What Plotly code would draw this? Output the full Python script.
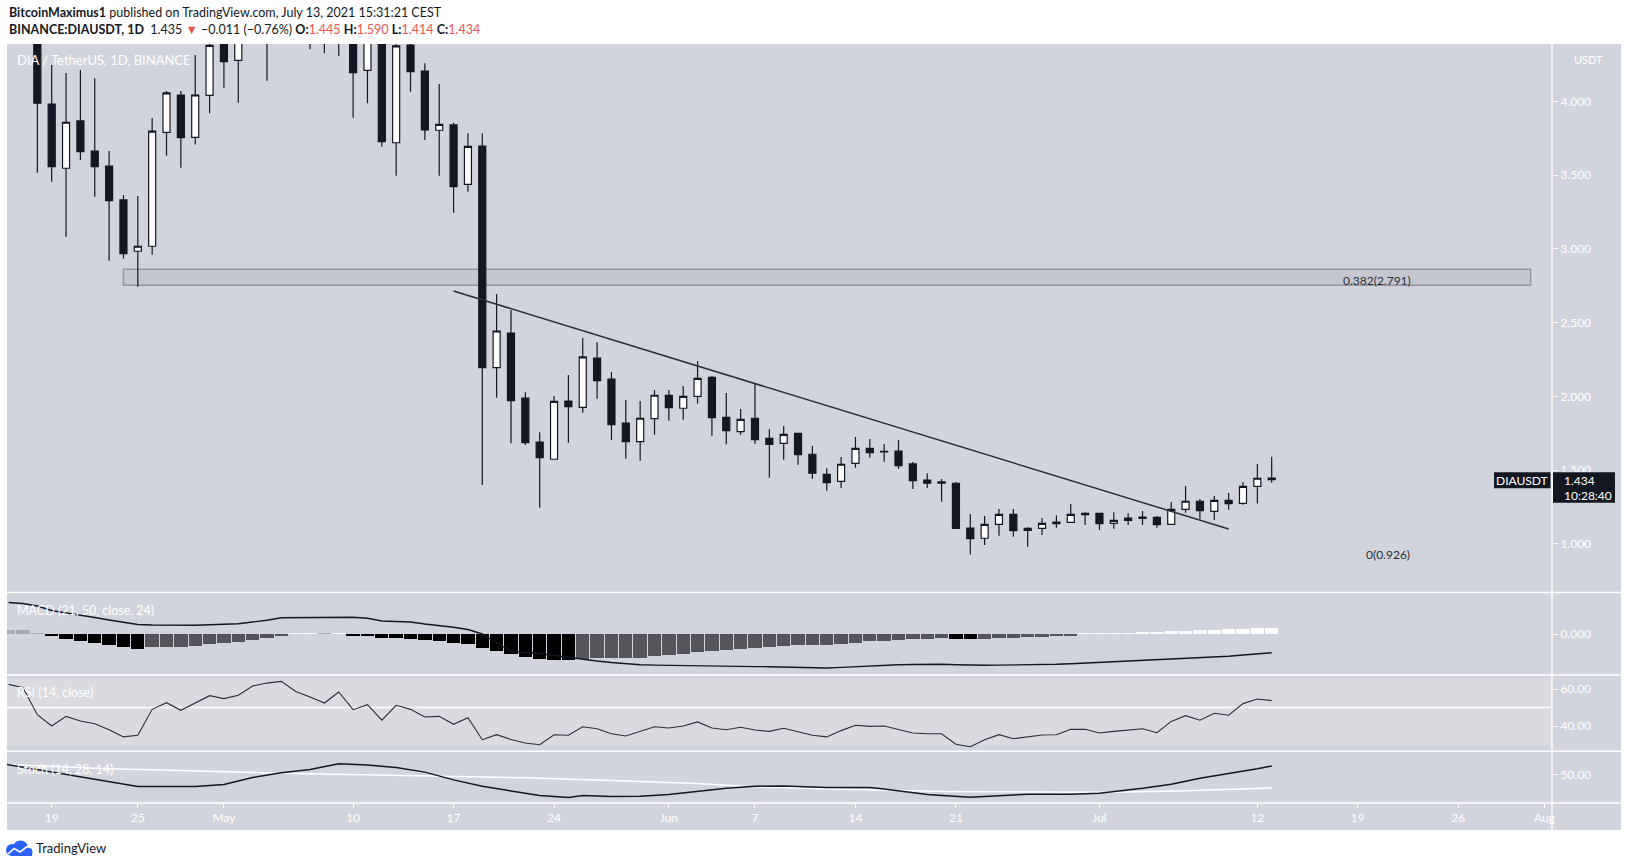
import plotly.graph_objects as go
import pandas as pd

# ---------------- data ----------------
dates = pd.date_range('2021-04-16', '2021-07-13', freq='D')

opens = [4.90, 4.85, 4.65, 3.983, 3.547, 3.868, 3.664, 3.562, 3.332, 2.984,
         3.018, 3.791, 4.044, 3.757, 4.042, 4.42, 4.279, 4.62, 4.85, 4.60,
         4.95, 4.80, 4.70, 4.75, 4.60, 4.211, 4.55, 3.720, 4.383, 4.207,
         3.805, 3.841, 3.438, 3.698, 2.194, 2.429, 1.988, 1.690, 1.573, 1.968,
         1.925, 2.260, 2.117, 1.819, 1.692, 1.848, 2.007, 1.919, 2.000, 2.129,
         1.857, 1.760, 1.851, 1.715, 1.681, 1.749, 1.607, 1.471, 1.423, 1.545,
         1.647, 1.626, 1.629, 1.541, 1.432, 1.419, 1.410, 1.106, 1.037, 1.131,
         1.199, 1.091, 1.104, 1.147, 1.145, 1.206, 1.206, 1.138, 1.158, 1.181,
         1.179, 1.131, 1.233, 1.288, 1.220, 1.294, 1.274, 1.389, 1.445]
highs = [5.20, 5.00, 4.75, 4.248, 4.193, 4.214, 4.157, 3.664, 3.366, 3.359,
         3.888, 4.071, 4.071, 4.315, 4.50, 4.60, 4.75, 4.95, 5.00, 5.10,
         5.20, 5.00, 4.95, 4.90, 4.80, 4.70, 4.65, 4.45, 4.45, 4.259,
         4.119, 3.855, 3.784, 3.784, 2.694, 2.585, 2.027, 1.756, 2.002, 2.145,
         2.395, 2.367, 2.165, 1.975, 1.968, 2.043, 2.043, 2.070, 2.240, 2.137,
         2.023, 1.914, 2.088, 1.776, 1.798, 1.752, 1.663, 1.512, 1.588, 1.724,
         1.710, 1.676, 1.703, 1.554, 1.478, 1.439, 1.419, 1.201, 1.188, 1.235,
         1.235, 1.111, 1.174, 1.193, 1.269, 1.213, 1.210, 1.213, 1.206, 1.222,
         1.188, 1.283, 1.391, 1.303, 1.324, 1.344, 1.419, 1.541, 1.590]
lows = [4.60, 4.55, 3.517, 3.456, 3.083, 3.603, 3.354, 2.920, 2.934, 2.744,
        2.961, 3.632, 3.551, 3.709, 3.920, 4.094, 3.992, 4.45, 4.141, 4.45,
        4.60, 4.354, 4.327, 4.309, 3.890, 3.988, 3.693, 3.497, 4.066, 3.739,
        3.497, 3.246, 3.388, 1.398, 1.990, 1.681, 1.670, 1.244, 1.573, 1.685,
        1.888, 1.984, 1.703, 1.576, 1.563, 1.740, 1.834, 1.841, 1.950, 1.733,
        1.674, 1.740, 1.678, 1.448, 1.570, 1.536, 1.441, 1.360, 1.378, 1.516,
        1.583, 1.556, 1.509, 1.371, 1.378, 1.285, 1.102, 0.926, 0.991, 1.054,
        1.048, 0.980, 1.059, 1.109, 1.145, 1.127, 1.093, 1.102, 1.127, 1.127,
        1.109, 1.131, 1.210, 1.168, 1.161, 1.231, 1.265, 1.272, 1.414]
closes = [4.85, 4.65, 3.988, 3.558, 3.859, 3.659, 3.558, 3.327, 2.967, 3.018,
          3.799, 4.058, 3.754, 4.044, 4.381, 4.270, 4.62, 4.85, 4.60, 4.95,
          4.80, 4.70, 4.75, 4.60, 4.196, 4.55, 3.727, 4.377, 4.202, 3.807,
          3.845, 3.422, 3.696, 2.194, 2.443, 1.970, 1.685, 1.583, 1.966, 1.929,
          2.267, 2.106, 1.807, 1.692, 1.851, 2.007, 1.923, 2.000, 2.122, 1.855,
          1.767, 1.844, 1.706, 1.674, 1.742, 1.604, 1.478, 1.414, 1.539, 1.647,
          1.617, 1.622, 1.529, 1.428, 1.410, 1.410, 1.104, 1.034, 1.131, 1.199,
          1.088, 1.104, 1.138, 1.136, 1.199, 1.197, 1.136, 1.158, 1.174, 1.172,
          1.129, 1.233, 1.288, 1.224, 1.294, 1.272, 1.389, 1.444, 1.434]

macd_hist = [0.037, 0.037, 0.010, -0.023, -0.047, -0.070, -0.090, -0.107, -0.127, -0.147,
             -0.130, -0.130, -0.129, -0.117, -0.100, -0.090, -0.080, -0.057, -0.040, -0.020,
             0.008, 0.012, 0.008, 0.010, -0.017, -0.018, -0.037, -0.043, -0.047, -0.057,
             -0.067, -0.090, -0.100, -0.137, -0.170, -0.200, -0.227, -0.247, -0.257, -0.259,
             -0.247, -0.240, -0.239, -0.237, -0.236, -0.217, -0.207, -0.197, -0.180, -0.167,
             -0.157, -0.147, -0.137, -0.127, -0.117, -0.107, -0.106, -0.105, -0.097, -0.087,
             -0.067, -0.066, -0.057, -0.047, -0.046, -0.037, -0.047, -0.048, -0.046, -0.037,
             -0.036, -0.027, -0.026, -0.017, -0.016, 0.008, 0.010, 0.013, 0.014, 0.020,
             0.021, 0.030, 0.031, 0.040, 0.041, 0.050, 0.051, 0.060, 0.061]
macd_line = [0.315, 0.305, 0.280, 0.235, 0.210, 0.190, 0.165, 0.140, 0.115, 0.095,
             0.090, 0.090, 0.085, 0.087, 0.093, 0.098, 0.103, 0.120, 0.137, 0.163,
             0.165, 0.167, 0.170, 0.173, 0.168, 0.158, 0.130, 0.125, 0.120, 0.100,
             0.085, 0.067, 0.045, 0.000, -0.090, -0.170, -0.185, -0.195, -0.215, -0.235,
             -0.255, -0.270, -0.285, -0.300, -0.308, -0.311, -0.314, -0.316, -0.318, -0.320,
             -0.322, -0.324, -0.326, -0.327, -0.330, -0.334, -0.337, -0.340, -0.334, -0.327,
             -0.318, -0.310, -0.307, -0.305, -0.303, -0.303, -0.308, -0.313, -0.312, -0.311,
             -0.310, -0.312, -0.310, -0.303, -0.297, -0.290, -0.287, -0.280, -0.275, -0.268,
             -0.260, -0.254, -0.248, -0.240, -0.232, -0.222, -0.210, -0.198, -0.187]

rsi = [62.5, 60.7, 46.1, 40.0, 45.2, 42.7, 41.2, 38.0, 34.1, 35.0,
       49.0, 52.6, 48.5, 52.4, 56.4, 54.8, 56.6, 61.6, 63.2, 64.1,
       58.7, 55.7, 52.4, 58.4, 48.8, 51.5, 43.2, 51.2, 49.0, 44.9,
       45.2, 40.9, 44.5, 32.6, 35.3, 32.7, 30.8, 29.9, 35.3, 35.0,
       39.6, 38.5, 35.8, 34.6, 37.1, 39.6, 38.9, 40.0, 42.2, 38.9,
       38.0, 39.3, 37.8, 37.1, 38.8, 36.8, 35.0, 34.1, 37.5, 40.4,
       39.8, 40.0, 38.0, 36.2, 35.8, 35.8, 30.1, 28.8, 32.6, 35.3,
       33.1, 33.9, 35.1, 35.3, 38.2, 38.2, 36.2, 37.1, 38.0, 38.5,
       36.4, 42.5, 45.6, 43.1, 46.9, 45.8, 52.1, 54.6, 53.7]

stoch_k_dates = ['2021-04-15 21:00', '2021-04-19', '2021-04-20', '2021-04-22', '2021-04-25',
                 '2021-04-27', '2021-04-29', '2021-05-01', '2021-05-03', '2021-05-05',
                 '2021-05-07', '2021-05-09', '2021-05-11', '2021-05-13', '2021-05-15',
                 '2021-05-17', '2021-05-19', '2021-05-21', '2021-05-23', '2021-05-25',
                 '2021-05-26', '2021-05-28', '2021-05-30', '2021-06-01', '2021-06-03',
                 '2021-06-05', '2021-06-07', '2021-06-09', '2021-06-12', '2021-06-15',
                 '2021-06-16', '2021-06-19', '2021-06-22', '2021-06-24', '2021-06-26',
                 '2021-06-29', '2021-07-01', '2021-07-04', '2021-07-06', '2021-07-08',
                 '2021-07-10', '2021-07-12', '2021-07-13']
stoch_k = [60.0, 52.3, 49.6, 45.0, 38.0, 38.0, 38.0, 40.0, 47.0, 51.6,
           55.0, 60.6, 59.3, 57.0, 52.3, 44.6, 38.3, 33.6, 29.0, 27.0,
           29.0, 28.0, 28.3, 30.0, 33.0, 36.3, 38.3, 38.6, 37.0, 37.0,
           35.6, 30.0, 27.3, 28.6, 30.3, 30.3, 31.3, 36.3, 40.3, 46.3,
           50.6, 55.6, 58.3]
stoch_d_dates = ['2021-04-15 21:00', '2021-04-23', '2021-05-05', '2021-05-13', '2021-05-22',
                 '2021-05-28', '2021-06-03', '2021-06-06 12:00', '2021-06-13 12:00',
                 '2021-06-20 12:00', '2021-06-26 12:00', '2021-07-02', '2021-07-06 12:00',
                 '2021-07-13']
stoch_d = [60.0, 55.6, 51.3, 49.0, 46.6, 44.0, 41.0, 38.0, 35.0, 33.0, 32.8, 32.3, 33.6, 36.6]

zone_low, zone_high = 2.753, 2.862
fib_382, fib_0 = 2.791, 0.926
zone_dates = ['2021-04-24', '2021-07-31 01:00']
trend_dates = ['2021-05-17', '2021-07-10']
trend_prices = [2.714, 1.100]

price_ticks = [1.0, 1.5, 2.0, 2.5, 3.0, 3.5, 4.0]
time_tick_dates = ['2021-04-19', '2021-04-25', '2021-05-01', '2021-05-10', '2021-05-17',
                   '2021-05-24', '2021-06-01', '2021-06-07', '2021-06-14', '2021-06-21',
                   '2021-07-01', '2021-07-12', '2021-07-19', '2021-07-26', '2021-08-01']
time_tick_text = ['19', '25', 'May', '10', '17', '24', 'Jun', '7', '14', '21',
                  'Jul', '12', '19', '26', 'Aug']

# ---------------- geometry helpers (pixels -> paper) ----------------
W, H = 1627, 867
L_PX, R_PX, T_PX, B_PX = 7, 1552, 44, 803


def px(x):
    return (x - L_PX) / (R_PX - L_PX)


def py(y):
    return (B_PX - y) / (B_PX - T_PX)


DARK = '#131722'
BG = '#D1D4DC'
FONT = 'Lato'

# histogram colours from direction of change
hist_colors = []
prev = None
for v in macd_hist:
    if v >= 0:
        c = '#FFFFFF' if (prev is not None and v > prev) else '#A9ABB1'
    else:
        c = '#000000' if (prev is None or v < prev) else '#54555B'
    hist_colors.append(c)
    prev = v

fig = go.Figure()
fig.add_trace(go.Candlestick(
    x=dates, open=opens, high=highs, low=lows, close=closes,
    increasing=dict(fillcolor='#FFFFFF', line=dict(color=DARK, width=1.2)),
    decreasing=dict(fillcolor=DARK, line=dict(color=DARK, width=1.2)),
    whiskerwidth=0, xaxis='x', yaxis='y', showlegend=False, hoverinfo='skip'))
fig.add_trace(go.Bar(x=dates, y=macd_hist, marker=dict(color=hist_colors, line=dict(width=0)),
                     width=0.93 * 86400000, xaxis='x', yaxis='y2', showlegend=False,
                     hoverinfo='skip'))
fig.add_trace(go.Scatter(x=dates, y=macd_line, mode='lines', line=dict(color=DARK, width=1.4),
                         xaxis='x', yaxis='y2', showlegend=False, hoverinfo='skip'))
fig.add_trace(go.Scatter(x=dates, y=rsi, mode='lines', line=dict(color='#2A2E39', width=1.1),
                         xaxis='x', yaxis='y3', showlegend=False, hoverinfo='skip'))
fig.add_trace(go.Scatter(x=stoch_d_dates, y=stoch_d, mode='lines', line=dict(color='#FFFFFF', width=1.5),
                         xaxis='x', yaxis='y4', showlegend=False, hoverinfo='skip'))
fig.add_trace(go.Scatter(x=stoch_k_dates, y=stoch_k, mode='lines', line=dict(color=DARK, width=1.5),
                         xaxis='x', yaxis='y4', showlegend=False, hoverinfo='skip'))

pane_main = (T_PX, 592.5)
pane_macd = (592.5, 675)
pane_rsi = (675, 751.3)
pane_sto = (751.3, B_PX)


def dom(p):
    return [max(0, py(p[1])), min(1, py(p[0]))]


tickfont = dict(family=FONT, size=12, color='#FFFFFF')
yax_common = dict(side='right', anchor='x', showgrid=False, zeroline=False, showline=False,
                  ticks='outside', ticklen=5, tickcolor='#FFFFFF', tickfont=tickfont,
                  fixedrange=True)

fig.update_layout(
    width=W, height=H, autosize=False,
    margin=dict(l=L_PX, r=W - R_PX, t=T_PX, b=H - B_PX, pad=0),
    paper_bgcolor='#FFFFFF', plot_bgcolor=BG,
    showlegend=False, dragmode=False, bargap=0,
    xaxis=dict(domain=[0, 1], anchor='y4', type='date',
               range=['2021-04-15 21:16', '2021-08-01 12:43'],
               tickvals=time_tick_dates, ticktext=time_tick_text,
               showgrid=False, zeroline=False, showline=False,
               ticks='outside', ticklen=4, tickcolor='#FFFFFF', tickfont=tickfont,
               rangeslider=dict(visible=False), fixedrange=True),
    yaxis=dict(domain=dom(pane_main), range=[0.669, 4.390],
               tickvals=price_ticks, ticktext=['%.3f' % v for v in price_ticks], **yax_common),
    yaxis2=dict(domain=dom(pane_macd), range=[-0.41, 0.415],
                tickvals=[0], ticktext=['0.000'], **yax_common),
    yaxis3=dict(domain=dom(pane_rsi), range=[26.32, 67.57],
                tickvals=[40, 60], ticktext=['40.00', '60.00'], **yax_common),
    yaxis4=dict(domain=dom(pane_sto), range=[21.6, 73],
                tickvals=[50], ticktext=['50.00'], **yax_common),
)

shapes = []
# whole chart background (incl. price/time axis area)
shapes.append(dict(type='rect', xref='paper', yref='paper', x0=px(7), x1=px(1621),
                   y0=py(830), y1=py(44), fillcolor=BG, line=dict(width=0), layer='below'))
# RSI band
shapes.append(dict(type='rect', xref='paper', yref='paper', x0=px(7), x1=px(R_PX),
                   y0=py(745), y1=py(679.3), fillcolor='#D9DBE1', line=dict(width=0), layer='below'))
shapes.append(dict(type='line', xref='paper', yref='y3', x0=px(7), x1=px(R_PX), y0=50, y1=50,
                   line=dict(color='#FFFFFF', width=1.5), layer='below'))
# fib zone
shapes.append(dict(type='rect', xref='x', yref='y', x0=zone_dates[0], x1=zone_dates[1],
                   y0=zone_low, y1=zone_high, fillcolor='#C4C7CF',
                   line=dict(color='#9598A1', width=1.5), layer='below'))
# trend line
shapes.append(dict(type='line', xref='x', yref='y', x0=trend_dates[0], x1=trend_dates[1],
                   y0=trend_prices[0], y1=trend_prices[1],
                   line=dict(color='#2A2E39', width=1.5), layer='above'))
# separators
for yy in [pane_main[1], pane_macd[1], pane_rsi[1], B_PX]:
    shapes.append(dict(type='line', xref='paper', yref='paper', x0=px(7), x1=px(1621),
                       y0=py(yy), y1=py(yy), line=dict(color='#FFFFFF', width=1.5), layer='above'))
shapes.append(dict(type='line', xref='paper', yref='paper', x0=px(R_PX), x1=px(R_PX),
                   y0=py(830), y1=py(44), line=dict(color='#FFFFFF', width=1.5), layer='above'))
# last price labels
shapes.append(dict(type='rect', xref='paper', yref='paper', x0=px(1494), x1=px(1550.5),
                   y0=py(488.3), y1=py(472.3), fillcolor=DARK, line=dict(width=0), layer='above'))
shapes.append(dict(type='rect', xref='paper', yref='paper', x0=px(1553), x1=px(1615),
                   y0=py(502.7), y1=py(472.3), fillcolor=DARK, line=dict(width=0), layer='above'))
# TradingView logo (cloud)
shapes.append(dict(type='circle', xref='paper', yref='paper', x0=px(6), x1=px(18),
                   y0=py(856), y1=py(844), fillcolor='#2962FF', line=dict(width=0), layer='above'))
shapes.append(dict(type='circle', xref='paper', yref='paper', x0=px(13), x1=px(28),
                   y0=py(855), y1=py(840.5), fillcolor='#2962FF', line=dict(width=0), layer='above'))
shapes.append(dict(type='rect', xref='paper', yref='paper', x0=px(11), x1=px(32),
                   y0=py(856), y1=py(849), fillcolor='#2962FF', line=dict(width=0), layer='above'))
shapes.append(dict(type='circle', xref='paper', yref='paper', x0=px(25), x1=px(32.5),
                   y0=py(856), y1=py(848), fillcolor='#2962FF', line=dict(width=0), layer='above'))
shapes.append(dict(type='path', xref='paper', yref='paper',
                   path='M %f %f L %f %f L %f %f L %f %f' % (px(8), py(854), px(14), py(848.5),
                                                                px(20), py(852), px(28), py(846)),
                   line=dict(color='#FFFFFF', width=1.6), layer='above'))
fig.update_layout(shapes=shapes)

ann = []


def text(x, y, s, size=12, color='#FFFFFF', anchor='left', family=FONT):
    ann.append(dict(xref='paper', yref='paper', x=px(x), y=py(y), text=s, showarrow=False,
                    xanchor=anchor, yanchor='middle',
                    font=dict(family=family, size=size, color=color)))


RED = '#EF5350'
text(7, 13, '<b>BitcoinMaximus1</b> published on TradingView.com, July 13, 2021 15:31:21 CEST',
     size=12.5, color=DARK)
text(7, 30, ('<b>BINANCE:DIAUSDT, 1D</b>  1.435 <span style="color:%s">▼</span> −0.011 (−0.76%%) '
             '<b>O:</b><span style="color:%s">1.445</span> <b>H:</b><span style="color:%s">1.590</span> '
             '<b>L:</b><span style="color:%s">1.414</span> <b>C:</b><span style="color:%s">1.434</span>')
     % (RED, RED, RED, RED, RED), size=12.5, color=DARK)
text(15, 60.5, 'DIA / TetherUS, 1D, BINANCE', size=13)
text(1572, 59, 'USDT', size=11)
text(15, 610, 'MACD (21, 50, close, 24)', size=12.5)
text(15, 692, 'RSI (14, close)', size=12.5)
text(15, 769, 'Stoch (14, 28, 14)', size=12.5)
text(1376.5, 280, '0.382(%.3f)' % fib_382, size=12, color='#2A2E39', anchor='center')
text(1388, 554.5, '0(%.3f)' % fib_0, size=12, color='#2A2E39', anchor='center')
text(1522, 480.3, 'DIAUSDT', size=12, anchor='center')
text(1562, 480.3, '%.3f' % closes[-1], size=12)
text(1562, 495, '10:28:40', size=12)
text(34, 848, 'TradingView', size=13, color=DARK)
fig.update_layout(annotations=ann)

fig.write_html('out.html', config={'displayModeBar': False, 'staticPlot': True},
               post_script="document.body.style.margin='0';document.body.style.padding='0';")
